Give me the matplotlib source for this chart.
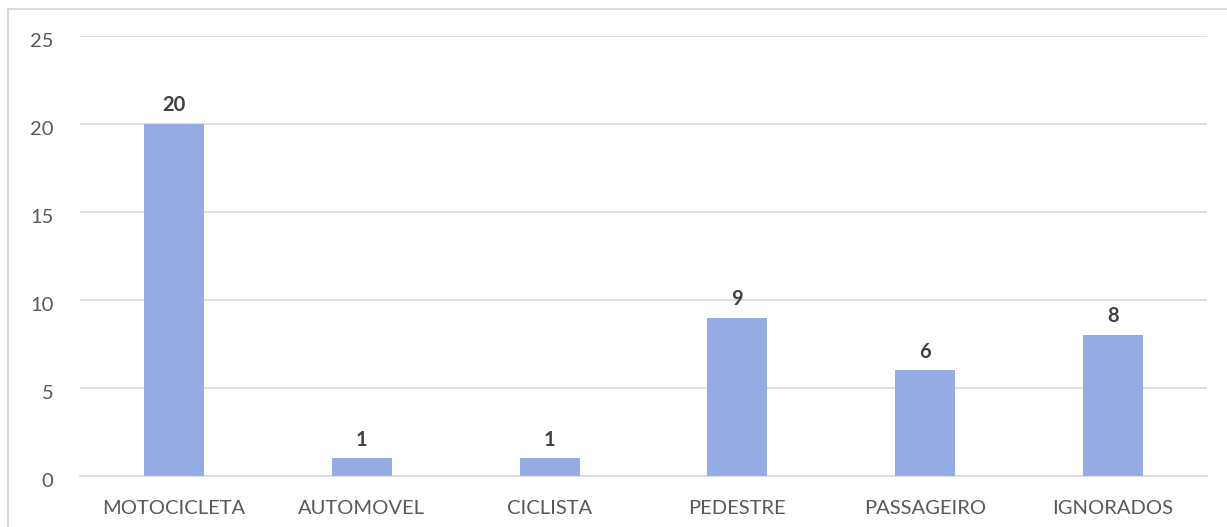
import matplotlib
matplotlib.use('Agg')
import matplotlib.pyplot as plt
import matplotlib.transforms as mtransforms
from matplotlib.patches import Rectangle

# dados
categorias = ['MOTOCICLETA', 'AUTOMOVEL', 'CICLISTA', 'PEDESTRE', 'PASSAGEIRO', 'IGNORADOS']
valores = [20, 1, 1, 9, 6, 8]
yticks = [0, 5, 10, 15, 20, 25]

plt.rcParams['font.family'] = ['Lato', 'DejaVu Sans']

fig = plt.figure(figsize=(12.27, 5.27), dpi=100)
ax = fig.add_axes([80/1227, 1-476/527, 1127/1227, 440/527])

# moldura do grafico (so topo e esquerda aparecem)
fig.patches.append(Rectangle((8/1227, -0.1), 1.2, 1 - 9/527 + 0.1, transform=fig.transFigure,
                             fill=False, edgecolor='#d9d9d9', linewidth=1.5))

x = range(len(categorias))
ax.bar(x, valores, width=0.32, color='#94ace3', zorder=3)
for i, v in zip(x, valores):
    ax.text(i, v + 0.5, str(v), ha='center', va='bottom', fontsize=14.5,
            fontweight='bold', color='#404040')

ax.set_xlim(-0.5, len(categorias) - 0.5)
ax.set_ylim(0, 25)
ax.set_yticks(yticks)
ax.set_xticks(list(x))
ax.set_xticklabels(categorias)
ax.yaxis.grid(True, color='#d9d9d9', linewidth=1.2, zorder=0)
for s in ['top', 'right', 'left']:
    ax.spines[s].set_visible(False)
ax.spines['bottom'].set_color('#d9d9d9')
ax.spines['bottom'].set_linewidth(1.2)
ax.tick_params(length=0, colors='#595959', labelsize=14.5)
ax.tick_params(axis='y', pad=19)
ax.tick_params(axis='x', pad=17)

# rotulos do eixo y um pouco abaixo da grade, como no original
desloc = mtransforms.ScaledTranslation(0, -4/100, fig.dpi_scale_trans)
for lbl in ax.get_yticklabels():
    lbl.set_transform(lbl.get_transform() + desloc)

fig.savefig('out.png', dpi=100)
